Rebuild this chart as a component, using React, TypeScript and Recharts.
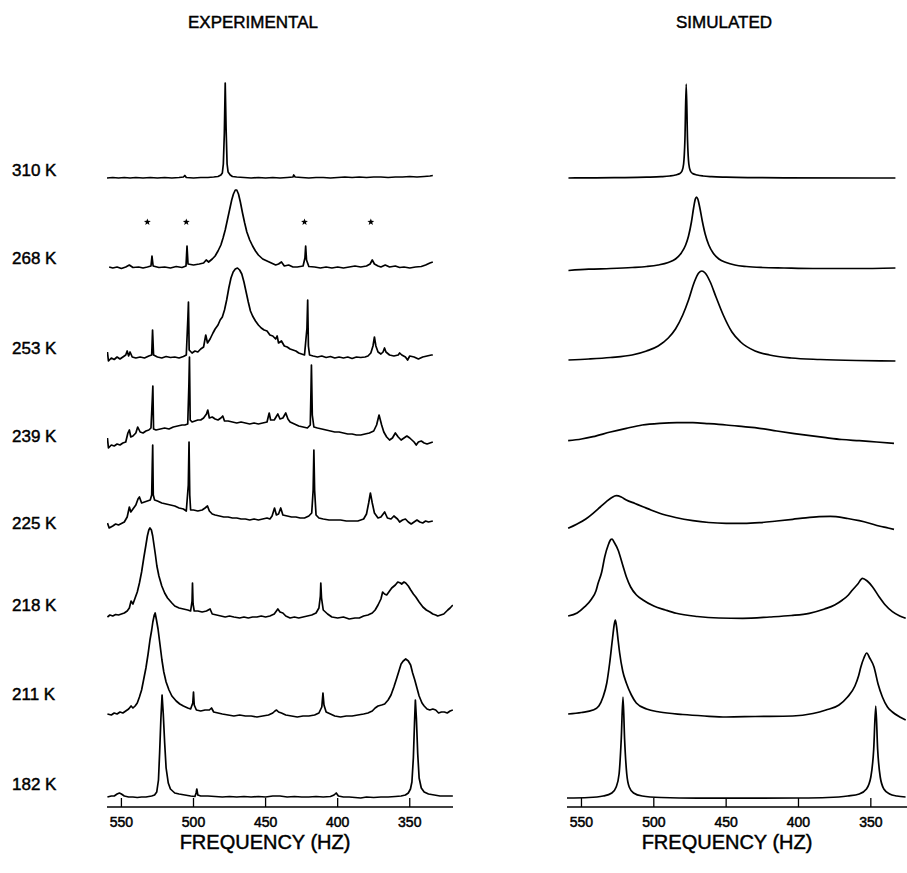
import { ComposedChart, Line, Scatter, XAxis, YAxis } from 'recharts'

const temps = ['310 K', '268 K', '253 K', '239 K', '225 K', '218 K', '211 K', '182 K']
const freqTicks = [550, 500, 450, 400, 350]

// baseline of each trace in the stacked plot (top trace first)
const expOffsets = [629, 539, 449, 362, 282, 191, 92, 9]
const simOffsets = [629, 537, 445, 366, 279, 190, 91, 8]

// [frequency Hz, intensity above baseline]
const exp310 = [[560,0],[556,0.5],[552,0],[548,0.5],[544,0],[540,0.5],[535,0],[530,0.5],[525,0],[520,0.5],[515,0],[510,0.5],[507,1],[506,2.5],[505,0.5],[500,0],[495,0.5],[490,0.5],[486,1],[483,1.5],[481,3],[480,5],[479.3,14],[478.6,45],[478,95],[477.4,50],[476.7,14],[476,6],[474.5,3],[473,1.5],[470,1],[465,0.5],[460,0],[455,0.5],[450,0],[445,0.5],[440,0],[435,0.5],[431,1],[430.5,3],[429.5,1],[425,0.5],[420,0],[415,0.5],[410,0.5],[405,0],[400,0.5],[395,1],[390,0.5],[385,1],[380,0.5],[375,1],[370,1],[365,0.5],[360,1],[355,1],[350,1.5],[345,1],[340,1.5],[336,2],[334,2.5]]
const exp268 = [[558.5,1],[556,0],[553,1],[550,-0.5],[547,1],[544.5,3],[542,0.5],[538,1],[535,0],[532,1],[529.5,2],[528.8,12],[528,2],[524,0.5],[520,1],[516,0],[512,1.5],[508,0.5],[505.2,2],[504.5,22],[503.8,4],[500,3],[496,4],[493,5],[491.2,8],[489.5,6],[487,9],[485,12],[483,17],[481,23],[479.5,30],[478,38],[476.5,48],[475,58],[473.5,68],[472.3,74],[471,78],[470,78],[468.8,74],[467.5,66],[466,55],[464.5,45],[463,36],[461,28],[459,22],[457,17],[455,13],[452,9],[449,7],[446,5],[443,3],[441,4],[439,6],[437,2],[434,3],[431,1],[428,1],[424,2],[422.7,10],[422.2,22],[421.6,8],[420,1.5],[416,1],[412,0],[408,1],[404,0],[400,1],[396,0],[392,1],[388,2],[384,1],[380,2],[377.5,4],[376,8],[374.5,4],[372,2],[370,1],[367,3],[364,1],[360,2],[357,0.5],[354,1],[350,0],[346,1],[342,1.5],[339,3],[336,5],[334,6]]
const exp253 = [[559.7,6],[559,-3],[557,0],[555,-1.5],[553,1],[551,-1],[549,1],[547,3],[546,7],[545,2],[544,6],[542.5,1],[540,0],[537,1],[534,0],[531,2],[529,3],[528.4,28],[527.7,3],[525,1],[522,0],[519,1.5],[516,0.5],[513,1],[510,0],[507,1.5],[505,3],[503.9,40],[503.5,56],[503,8],[501,5],[499,7],[497,6],[495,9],[493,11],[491.5,23],[490.3,15],[488.5,19],[486.5,25],[485,29],[483,33],[481.5,38],[480,41],[478.5,48],[477,58],[475.5,70],[474,80],[472.5,86],[471,89],[469.5,90],[468,88],[466.5,84],[465,76],[463.5,66],[462,56],[460.5,47],[459,42],[457,37],[455,33],[453,30],[451,28],[449,27],[447,23],[445,22],[443,19],[442,22],[441,15],[439,17],[437,12],[435,11],[433,9],[431,8],[429,7],[427,5],[425,4],[423,3],[421.3,30],[420.8,58],[420.3,12],[419.5,3],[417,2],[414,1],[411,2],[408,0.5],[405,1.5],[402,0],[399,1],[396,0],[393,1],[390,-0.5],[387,1],[384,0.5],[381,1],[379,2],[377,5],[375.5,12],[374.5,21],[373.5,12],[372,6],[370,4],[368.5,6],[367.5,10],[366.5,6],[364,3],[361,2],[358,3],[357,5],[355.5,3],[353,1],[351.5,-2],[350,2],[347,1],[344,-1],[341,1],[338,2],[335,3],[334,3]]
const exp239 = [[559.7,7],[559,-3],[557,0],[555,-1],[553,1],[551,0],[549,2],[547,3],[545.5,12],[544.5,15],[543.5,8],[542,9],[540,12],[538.7,18],[537,13],[535,12],[533,14],[531,15],[529.5,17],[528.6,45],[528.2,59],[527.7,16],[526,15],[523,16],[520,17],[517,16],[514,18],[511,19],[508,20],[506,20],[504,21],[503.2,60],[502.8,88],[502.3,25],[501,23],[499,24],[497,25],[495,25],[493,27],[491,31],[490.1,35],[489,27],[487,28],[485,26],[483,25],[481,27],[479.7,29],[478.5,24],[476,24],[473,23],[470,22],[467,23],[464,22],[461,21],[458,22],[455,21],[452,22],[449,23],[447.5,32],[446.5,25],[444,25],[441.5,31],[440,26],[438,27],[436,32],[434.5,26],[433,23],[430,21],[427,19],[424,18],[421,17],[419,20],[418.5,55],[418.2,80],[417.6,30],[416.5,18],[414,17],[411,16],[408,15],[405,14],[402,13],[399,13],[396,12],[393,11],[390,11],[387,10],[384,10],[381,11],[378,12],[375,14],[373,20],[371.3,30],[369.5,20],[368,13],[366,8],[364,5],[362,7],[360,12],[358,8],[356,5],[354,7],[352,9],[350,7],[348.5,5],[347,3],[345.5,0],[344,3],[342,4],[340,2],[338,1],[336,2],[334,3]]
const exp225 = [[559.7,2],[558.5,-3],[556,-1],[554,1],[552,0],[550,1.5],[548,3],[546,8],[544.5,18],[543.5,13],[542,16],[540,20],[538.5,26],[537.5,28],[536,22],[534,23],[532,24],[530,25],[529,30],[528.6,60],[528.3,80],[527.9,30],[527,25],[525,24],[522,22],[519,21],[516,20],[513,19],[510,17],[507,16],[505,14],[503.6,40],[503.1,83],[502.6,30],[502,15],[500,15],[497,14],[494,15],[492,17],[490.3,19],[489,14],[487,11],[485,10],[482,9],[479,8],[476,8],[473,7],[470,7],[467,6],[464,6],[461,5],[458,6],[455,5],[452,6],[449,7],[447,6],[445.5,9],[443.8,17],[442.5,10],[441,11],[439.5,17],[438,10],[435,9],[432,8],[429,8],[426,7],[423,7],[420,9],[418,12],[417,35],[416.5,75],[416,35],[415,10],[413,7],[410,6],[406,5],[402,5],[398,5],[394,4],[390,4],[386,4],[382,6],[380,11],[378.5,22],[377.3,32],[376,22],[374.5,12],[372,7],[370,8],[367.4,13],[365.5,7],[363,6],[361,9],[358.5,6],[357,3],[355,5],[353,6],[351,3],[349,1],[347,3],[345,5],[343,3],[341,2],[339,4],[337,3],[334,4]]
const exp218 = [[559.7,-1],[558,1],[556,0],[554,1.5],[552,1],[550,2],[548,3],[546,5],[544.5,8],[543.3,15],[542,12],[540.5,18],[539,24],[537.5,33],[536,44],[534.5,58],[533,71],[532,80],[531,86],[530.2,88],[529.2,86],[528.3,80],[527.5,72],[526.5,62],[525.4,50],[524,40],[522,30],[520,23],[518,18],[515,13],[513,10],[510,8],[507,7],[504,6],[502,5],[501,15],[500.7,33],[500.3,12],[499.5,5],[497,5],[494,4],[491,5],[488.5,7],[487,2],[484,1],[481,0],[478,-1],[475,0],[472,-1],[468,-2],[465,-1],[462,-2],[459,-1],[456,-1],[453,0],[450,-1],[447,0],[444,2],[442,6],[441.5,7],[440,4],[438,3],[436,0],[433,-2],[430,-1],[427,-2],[424,-1],[421,0],[418,1],[415,3],[413,8],[412,20],[411.7,33],[411.2,18],[410,6],[407,2],[404,-1],[400,-2],[396,-1],[392,-3],[388,-2],[385,-2],[382,0],[379,1],[376,3],[374,6],[372,11],[370,17],[368.8,24],[367.5,22],[366,21],[364,25],[362.5,28],[360,31],[358.3,34],[356.5,33],[355.6,32],[354,34],[352.8,33],[351,30],[349.3,26],[347.5,22],[345.8,19],[343.5,14],[340.9,9],[338.5,6],[336,4],[334,2],[332,1],[330.6,0],[328.5,1],[326.4,2],[325,4],[323.6,6],[322,8],[320.1,11]]
const exp211 = [[559.7,1],[557,0],[555,2],[553,1],[551,3],[549,2],[547,4],[545,6],[543.3,9],[542,7],[540.5,9],[539,12],[537.5,18],[536,25],[534.5,36],[533,47],[531.5,61],[530.2,75],[529,85],[528.2,93],[527.2,100],[526.6,102],[525.8,96],[524.6,86],[523.2,70],[521.9,55],[520.6,43],[519,33],[517,25],[515,19],[512,14],[509.5,11],[507,9],[504,7],[502,6],[500.5,12],[500,23],[499.5,10],[498,5],[495,4],[492,5],[489,5],[487.5,7],[486,3],[483,2],[480,1],[476,0],[472,-1],[468,0],[464,-1],[460,-1],[456,-2],[452,-1],[448,0],[445,2],[443.5,4],[442.4,5],[441,3],[439,2],[436,0],[432,-1],[428,-2],[424,-1],[420,-1],[416,0],[413,2],[411,8],[410.2,22],[409.5,10],[408,3],[405,1],[402,-1],[398,-2],[394,-1],[390,-1],[386,0],[382,1],[379,2],[376,4],[374,7],[372,9],[369.5,10],[367.4,11],[365,15],[363,20],[361,28],[359,37],[357.5,44],[356,51],[354.5,54],[352.8,56],[351,54],[349.4,50],[348,42],[346.5,35],[345,27],[343.5,19],[341.5,12],[340,9],[338,6],[336.1,5],[334,6],[332,5],[330,2],[328,3],[326,3],[324,2],[322,4],[320.1,5]]
const exp182 = [[559.7,1],[557,2],[555,2],[553,4],[551.4,5],[550,4],[548,2],[545,1],[542,1],[539,0.5],[536,1],[533,1],[531,1.5],[529,2],[527,3],[525.5,6],[524.3,18],[523.5,45],[522.6,80],[521.8,103],[521,85],[520,55],[519,30],[517.5,15],[516,9],[513,5],[510,4],[506,3],[502,2],[499,1.5],[498.2,5],[497.7,9],[497,3],[495,2],[490,2],[485,1.5],[480,1],[475,1.5],[470,1],[465,1.5],[460,1],[455,1.5],[450,1],[445,2],[440,2],[435,1],[430,1.5],[425,1],[420,1],[415,1.5],[410,1],[405,1.5],[402.5,3],[401,5],[399.5,2],[396,1],[392,1],[388,0.5],[384,0],[380,1],[375,0.5],[370,1],[365,1],[360,1.5],[356,2],[353,3],[351,5],[349.5,9],[348.5,16],[347.5,40],[346.7,75],[346.1,98],[345.4,80],[344.5,45],[343.5,20],[342,10],[340,6],[337,4],[333,3],[329,2],[325,2],[322,2],[320.1,2]]

const sim310 = [[559,0],[540,0.2],[520,0.4],[505,0.8],[495,1.3],[489,2],[485,3],[482,4.5],[480.5,7],[479.4,14],[478.5,38],[477.6,94],[476.7,38],[475.8,14],[474.7,7],[473.2,4.5],[470,3],[466,2],[460,1.3],[450,0.8],[435,0.4],[410,0.2],[333,0]]
const sim268 = [[559,-0.5],[545,0.8],[530,1.5],[515,2.5],[505,3.5],[497,5],[490,7.5],[485,11],[481,17],[478,25],[476,34],[474,48],[472.5,62],[471.3,71],[470.5,73],[469.6,71],[468.3,63],[466.5,49],[464.5,36],[462,25],[459,17],[455,11],[450,7.5],[444,5],[436,3.5],[425,2.5],[410,2],[390,1.5],[360,1.5],[333,2]]
const sim253 = [[559,2],[545,3],[530,4.5],[515,7],[505,11],[497,16],[490,24],[485,33],[480,47],[476,62],[472,80],[469,89],[466.8,91],[464.5,89],[461,80],[457,65],[452,47],[446,30],[440,20],[430,11],[420,7],[405,4],[385,2.5],[360,1.5],[333,1]]
const sim239 = [[559.2,0.3],[550,2],[542,4.3],[530,9],[519,12.7],[508,16],[496,17.7],[484,18.4],[473,18.3],[462,17.3],[450,16],[438,14.3],[427,12.7],[415,10],[404,7.7],[392,5.3],[381,3.3],[370,1.5],[358,0.3],[346,-1],[334,-2.3]]
const sim225 = [[559.2,-0.3],[553,4],[547,9],[542,14.7],[537,21],[532.8,26.3],[529,30.5],[525.9,32.3],[522.5,31],[519,28],[513,24.5],[507.5,21.3],[502,18],[496,14.7],[485,10.5],[473,7.3],[462,5.5],[450,4.7],[438,4.6],[427,5.3],[415,7],[404,8.7],[395,10.2],[385.7,11.3],[378,11.6],[374.1,11.3],[366,9.5],[358,7.3],[351,4.8],[344.3,2],[339,0.3],[334,-1.3]]
const sim218 = [[559.2,1],[553,4],[547.7,10.3],[543,18],[540,26],[538.5,33.7],[536,45],[533.9,60.3],[531.5,72],[529.7,77.5],[528.9,78],[527.5,75],[524.7,67],[521.5,52],[519,40.3],[516,30],[512,22],[507.5,17],[500,11],[492,7],[484.5,3.7],[470,0.5],[455,-1],[438.5,-1.3],[420,0],[405,1.5],[392.6,3.7],[382,8],[375,12],[369.6,17],[365.5,22],[362.7,27],[359,33],[355.8,38.7],[352.5,36],[348.9,30.3],[344.3,20.3],[340,12],[335.1,5.3],[330,1],[325.9,-1.3]]
const sim211 = [[559.2,2],[550,3.5],[542,6],[538,10],[535.1,19],[532.5,33],[530.5,53],[528.5,78],[527.3,92],[526.6,96],[525.8,90],[524.6,75],[523.6,63],[521.5,45],[519,33],[515.5,21],[512.1,13],[505,7],[496,4],[480,1.5],[465,0],[450,-1],[430,-0.5],[404,0],[390,2.5],[381,6],[372,11],[366.1,19],[361,30],[358.5,40],[356.9,49],[354.8,58],[352.8,63],[350.8,58],[347.8,49],[345,32],[342,19],[338.5,9],[335.1,4],[330,-1],[325.9,-4]]
const sim182 = [[560,1],[545,1.5],[535,3],[529,6],[526,12],[524,25],[522.5,60],[521.3,102],[520.2,60],[518.7,25],[517,12],[514,6],[508,3],[495,1.5],[470,0.8],[430,0.8],[400,1],[380,1.5],[366,3],[358,5],[353,10],[350,22],[348,50],[346.6,93],[345.3,50],[343.5,22],[341,10],[337,5],[332,3],[326,2]]

const expTraces = [exp310, exp268, exp253, exp239, exp225, exp218, exp211, exp182]
const simTraces = [sim310, sim268, sim253, sim239, sim225, sim218, sim211, sim182]

// asterisks over the 268 K spectrum (impurity lines)
const starFreqs = [532, 505, 423, 377]
const starHeight = 46

const FONT = '"Liberation Sans", Arial, Helvetica, sans-serif'
const labelY = [170, 258, 348, 436, 523, 605, 694, 784]

function toRows(pts: number[][], off: number) {
    return pts.map(([f, h]) => ({ f, v: off + h }))
}

function FreqTick(props: any) {
    const { x, y, payload } = props
    return (
        <g>
            <line x1={x} x2={x} y1={y - 9} y2={y} stroke="#000" strokeWidth={1.3} />
            <text
                x={x}
                y={y + 15}
                textAnchor="middle"
                dominantBaseline="central"
                fontSize={14}
                fontFamily={FONT}
                fill="#000"
                stroke="#000"
                strokeWidth={0.5}
            >
                {payload.value}
            </text>
        </g>
    )
}

function StarShape(props: any) {
    const { cx, cy } = props
    const pts: string[] = []
    for (let i = 0; i < 10; i++) {
        const r = i % 2 === 0 ? 3.6 : 1.5
        const a = -Math.PI / 2 + (i * Math.PI) / 5
        pts.push(`${cx + r * Math.cos(a)},${cy + r * Math.sin(a)}`)
    }
    return <polygon points={pts.join(' ')} fill="#000" />
}

function Panel({
    traces,
    offsets,
    domain,
    smooth,
    stars,
}: {
    traces: number[][][]
    offsets: number[]
    domain: [number, number]
    smooth: boolean
    stars?: { f: number; v: number }[]
}) {
    const width = smooth ? 447 : 460
    return (
        <ComposedChart width={width} height={873} margin={{ top: 70, right: smooth ? 0 : 7, bottom: 36, left: 107 }}>
            <XAxis
                type="number"
                dataKey="f"
                domain={domain}
                reversed
                allowDataOverflow
                ticks={freqTicks}
                interval={0}
                height={30}
                tickSize={0}
                tickMargin={0}
                tick={<FreqTick />}
                axisLine={{ stroke: '#000', strokeWidth: 1.6 }}
            />
            <YAxis type="number" dataKey="v" domain={[0, 737]} allowDataOverflow hide />
            {traces.map((pts, i) => (
                <Line
                    key={temps[i]}
                    data={toRows(pts, offsets[i])}
                    dataKey="v"
                    type={smooth ? 'monotone' : 'linear'}
                    stroke="#000"
                    strokeWidth={smooth ? 1.7 : 1.7}
                    strokeLinejoin="round"
                    dot={false}
                    activeDot={false}
                    isAnimationActive={false}
                />
            ))}
            {stars && <Scatter data={stars} dataKey="v" shape={<StarShape />} isAnimationActive={false} />}
        </ComposedChart>
    )
}

export default function App() {
    const stars = starFreqs.map((f) => ({ f, v: expOffsets[1] + starHeight }))
    return (
        <div style={{ position: 'absolute', left: 0, top: 0, width: 907, height: 873, background: '#fff', overflow: 'hidden' }}>
            <div style={{ position: 'absolute', left: 0, top: 0 }}>
                <Panel traces={expTraces} offsets={expOffsets} domain={[320, 560]} smooth={false} stars={stars} />
            </div>
            <div style={{ position: 'absolute', left: 460, top: 0 }}>
                <Panel traces={simTraces} offsets={simOffsets} domain={[325, 560]} smooth />
            </div>
            <svg width={907} height={873} style={{ position: 'absolute', left: 0, top: 0, pointerEvents: 'none' }}>
                <g fontFamily={FONT} fill="#000" stroke="#000" strokeWidth={0.45}>
                    <text x={253} y={22} fontSize={17} textAnchor="middle" dominantBaseline="central">EXPERIMENTAL</text>
                    <text x={724} y={22} fontSize={17} textAnchor="middle" dominantBaseline="central">SIMULATED</text>
                    {temps.map((t, i) => (
                        <text key={t} x={12} y={labelY[i]} fontSize={17} dominantBaseline="central">{t}</text>
                    ))}
                    <text x={265} y={842} fontSize={20} textAnchor="middle" dominantBaseline="central">FREQUENCY (HZ)</text>
                    <text x={727} y={842} fontSize={20} textAnchor="middle" dominantBaseline="central">FREQUENCY (HZ)</text>
                </g>
            </svg>
        </div>
    )
}
